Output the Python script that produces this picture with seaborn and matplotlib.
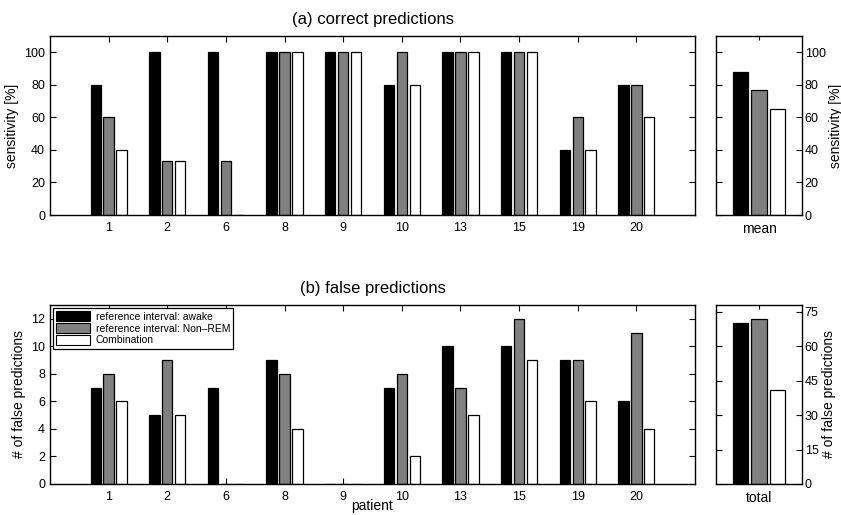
# import libraries
import pandas as pd
import matplotlib
matplotlib.use("Agg")
import matplotlib.pyplot as plt
from matplotlib.patches import Patch
import seaborn as sns


# data
patients = ["1", "2", "6", "8", "9", "10", "13", "15", "19", "20"]
series = ["reference interval: awake", "reference interval: Non\u2013REM", "Combination"]

sens_awake = [80, 100, 100, 100, 100, 80, 100, 100, 40, 80]
sens_nonrem = [60, 33.3, 33.3, 100, 100, 100, 100, 100, 60, 80]
sens_comb = [40, 33.3, 0, 100, 100, 80, 100, 100, 40, 60]
sens_mean = [88, 76.7, 65.3]

false_awake = [7, 5, 7, 9, 0, 7, 10, 10, 9, 6]
false_nonrem = [8, 9, 0, 8, 0, 8, 7, 12, 9, 11]
false_comb = [6, 5, 0, 4, 0, 2, 5, 9, 6, 4]
false_total = [70, 72, 41]


# long tables for seaborn
def long_table(a, b, c):
    rows = []
    for vals, name in zip([a, b, c], series):
        for p, v in zip(patients, vals):
            rows.append({"patient": p, "series": name, "value": v})
    return pd.DataFrame(rows)


df_sens = long_table(sens_awake, sens_nonrem, sens_comb)
df_false = long_table(false_awake, false_nonrem, false_comb)
df_mean = pd.DataFrame({"patient": ["mean"] * 3, "series": series, "value": sens_mean})
df_total = pd.DataFrame({"patient": ["total"] * 3, "series": series, "value": false_total})

palette = dict(zip(series, ["black", "#808080", "white"]))


# style
sns.set_style("ticks")
plt.rcParams["font.family"] = ["Liberation Sans", "DejaVu Sans"]
plt.rcParams["axes.linewidth"] = 1.0
for key in ["text.color", "axes.labelcolor", "xtick.color", "ytick.color", "axes.edgecolor"]:
    plt.rcParams[key] = "black"

W, H = 841, 515
fig = plt.figure(figsize=(W / 100, H / 100), dpi=100)


def box(left, right, top, bottom):
    return fig.add_axes([left / W, (H - bottom) / H, (right - left) / W, (bottom - top) / H])


ax1 = box(50, 695, 36, 215)
ax2 = box(716, 802, 36, 215)
ax3 = box(50, 695, 305, 484)
ax4 = box(716, 802, 305, 484)


def bars(ax, df, order):
    sns.barplot(data=df, x="patient", y="value", hue="series", order=order,
                hue_order=series, palette=palette, width=0.66, gap=0.2,
                edgecolor="black", linewidth=0.9, saturation=1, legend=False,
                errorbar=None, ax=ax)
    ax.set_xlabel("")
    ax.set_ylabel("")
    for s in ax.spines.values():
        s.set_visible(True)
        s.set_color("black")


bars(ax1, df_sens, patients)
bars(ax2, df_mean, ["mean"])
bars(ax3, df_false, patients)
bars(ax4, df_total, ["total"])

# main axes
for ax in (ax1, ax3):
    ax.set_xlim(-1, 10)
    ax.tick_params(direction="in", top=True, right=True, length=4, labelsize=9)
    ax.tick_params(axis="x", pad=5)

ax1.set_ylim(0, 110)
ax1.set_yticks([0, 20, 40, 60, 80, 100])
ax1.set_ylabel("sensitivity [%]", fontsize=10)
ax1.set_title("(a) correct predictions", fontsize=12, pad=9)

ax3.set_ylim(0, 13)
ax3.set_yticks([0, 2, 4, 6, 8, 10, 12])
ax3.set_ylabel("# of false predictions", fontsize=10)
ax3.set_xlabel("patient", fontsize=10, labelpad=-3)
ax3.set_title("(b) false predictions", fontsize=12, pad=9)

handles = [Patch(facecolor=palette[s], edgecolor="black", linewidth=0.8) for s in series]
leg = ax3.legend(handles, series, loc="upper left", fontsize=7.5, frameon=True,
                 fancybox=False, edgecolor="black", framealpha=1,
                 borderpad=0.3, labelspacing=0.12, handlelength=3.2,
                 handleheight=1.1, handletextpad=0.6, borderaxespad=0.3)
leg.get_frame().set_linewidth(0.9)

# small axes
for ax in (ax2, ax4):
    ax.set_xlim(-0.5, 0.5)
    ax.yaxis.tick_right()
    ax.yaxis.set_label_position("right")
    ax.tick_params(axis="y", direction="in", left=True, right=True, length=4, labelsize=9, pad=2)
    ax.tick_params(axis="x", direction="in", top=True, bottom=False, length=3, labelsize=10, pad=5)

ax2.set_ylim(0, 110)
ax2.set_yticks([0, 20, 40, 60, 80, 100])
ax2.set_ylabel("sensitivity [%]", fontsize=10, labelpad=2)

ax4.set_ylim(0, 78)
ax4.set_yticks([0, 15, 30, 45, 60, 75])
ax4.set_ylabel("# of false predictions", fontsize=10, labelpad=2)

plt.savefig("out.png", dpi=100)
